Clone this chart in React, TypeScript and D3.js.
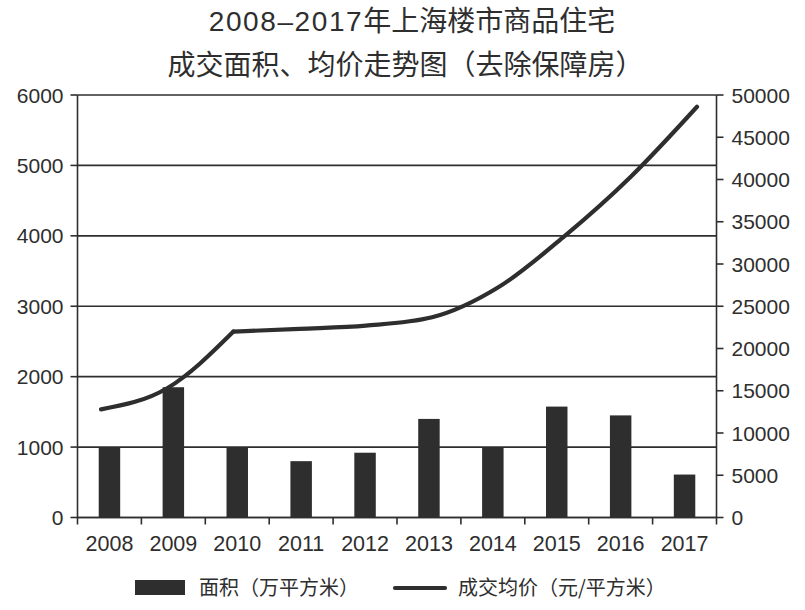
import React from 'react';
import * as d3 from 'd3';

const years = ['2008', '2009', '2010', '2011', '2012', '2013', '2014', '2015', '2016', '2017'];
const area = [1000, 1850, 1000, 800, 920, 1400, 1000, 1575, 1450, 610];
const price = [12800, 15300, 22000, 22330, 22710, 23690, 27240, 33300, 40330, 48610];
const leftTicks = [0, 1000, 2000, 3000, 4000, 5000, 6000];
const rightTicks = [0, 5000, 10000, 15000, 20000, 25000, 30000, 35000, 40000, 45000, 50000];
const titleYears = '2008–2017';
const titleRest = '年上海楼市商品住宅';
const titleLine2 = '成交面积、均价走势图（去除保障房）';
const legendLabels = ['面积（万平方米）', '成交均价（元/平方米）'];

const W = 805;
const H = 610;
const left = 77.5;
const right = 716.5;
const top = 95;
const bottom = 517.5;
const ink = '#2e2e2e';
const latin = '"Liberation Sans", Arial, "Noto Sans CJK SC", sans-serif';
const cjk = '"Noto Sans CJK SC", "Liberation Sans", sans-serif';

export default function App() {
  const x = d3.scaleBand<string>().domain(years).range([left, right]).paddingInner(0).paddingOuter(0);
  const xLine = d3.scalePoint<string>().domain(years).range([101, 697]);
  const yL = d3.scaleLinear().domain([0, 6000]).range([bottom, top]);
  const yR = d3.scaleLinear().domain([0, 50000]).range([bottom, top]);
  const barW = x.bandwidth() * 0.336;

  const pts = years.map((yr, i) => [xLine(yr) as number, yR(price[i])] as [number, number]);
  const gen = d3.line().curve(d3.curveMonotoneX);
  const path1 = gen(pts.slice(0, 3)) || '';
  const path2 = gen(pts.slice(2)) || '';

  const boundaries = [...years.map((yr) => x(yr) as number), right];

  return (
    <svg width={W} height={H} style={{ position: 'absolute', left: 0, top: 0, background: '#fff' }}>
      <rect x={0} y={0} width={W} height={H} fill="#fff" />
      <text x={412} y={31} textAnchor="middle" fontSize={28} fill={ink}>
        <tspan fontFamily={latin} letterSpacing={1.6}>{titleYears}</tspan>
        <tspan fontFamily={cjk}>{titleRest}</tspan>
      </text>
      <text x={405.5} y={75} textAnchor="middle" fontFamily={cjk} fontSize={28} fill={ink}>
        {titleLine2}
      </text>
      {/* gridlines */}
      {leftTicks.map((v) => (
        <line key={'g' + v} x1={left} x2={right} y1={yL(v)} y2={yL(v)} stroke={ink} strokeWidth={1.6} />
      ))}
      {/* bars */}
      {years.map((yr, i) => (
        <rect
          key={'b' + yr}
          x={(x(yr) as number) + x.bandwidth() / 2 - barW / 2}
          y={yL(area[i])}
          width={barW}
          height={bottom - yL(area[i])}
          fill={ink}
        />
      ))}
      {/* axes */}
      <line x1={left} x2={left} y1={top} y2={bottom} stroke={ink} strokeWidth={1.6} />
      <line x1={right} x2={right} y1={top} y2={bottom} stroke={ink} strokeWidth={1.6} />
      <line x1={left} x2={right} y1={bottom} y2={bottom} stroke={ink} strokeWidth={1.6} />
      {leftTicks.map((v) => (
        <g key={'lt' + v}>
          <line x1={left - 7} x2={left} y1={yL(v)} y2={yL(v)} stroke={ink} strokeWidth={1.6} />
          <text x={63.5} y={yL(v)} dy="0.36em" textAnchor="end" fontFamily={latin} fontSize={21} fill={ink}>
            {v}
          </text>
        </g>
      ))}
      {rightTicks.map((v) => (
        <g key={'rt' + v}>
          <line x1={right} x2={right + 7} y1={yR(v)} y2={yR(v)} stroke={ink} strokeWidth={1.6} />
          <text x={731.5} y={yR(v)} dy="0.36em" textAnchor="start" fontFamily={latin} fontSize={21} fill={ink}>
            {v}
          </text>
        </g>
      ))}
      {boundaries.map((bx, i) => (
        <line key={'xt' + i} x1={bx} x2={bx} y1={bottom} y2={bottom + 7} stroke={ink} strokeWidth={1.6} />
      ))}
      {years.map((yr) => (
        <text
          key={'xl' + yr}
          x={(x(yr) as number) + x.bandwidth() / 2}
          y={550.5}
          textAnchor="middle"
          fontFamily={latin}
          fontSize={21.5}
          fill={ink}
        >
          {yr}
        </text>
      ))}
      {/* price line */}
      <path d={path1} fill="none" stroke={ink} strokeWidth={4.2} strokeLinecap="round" strokeLinejoin="miter" />
      <path d={path2} fill="none" stroke={ink} strokeWidth={4.2} strokeLinecap="round" strokeLinejoin="round" />
      {/* legend */}
      <rect x={135} y={580} width={50} height={15} fill={ink} />
      <text x={199} y={588} dy="0.36em" fontFamily={cjk} fontSize={20} fill={ink}>
        {legendLabels[0]}
      </text>
      <line x1={395} x2={445} y1={588} y2={588} stroke={ink} strokeWidth={4.2} strokeLinecap="round" />
      <text x={458} y={588} dy="0.36em" fontFamily={cjk} fontSize={20} fill={ink}>
        {legendLabels[1]}
      </text>
    </svg>
  );
}
